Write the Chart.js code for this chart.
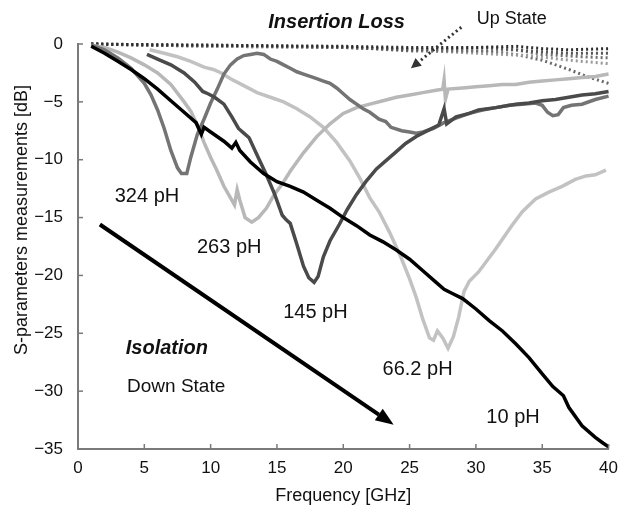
<!DOCTYPE html>
<html>
<head>
<meta charset="utf-8">
<script src="https://cdn.jsdelivr.net/npm/chart.js@4/dist/chart.umd.min.js"></script>
<style>
  html, body { margin: 0; padding: 0; background: #fff; }
  canvas { display: block; }
</style>
</head>
<body>
<canvas id="chart" width="619" height="507"></canvas>
<script>
// Axis ticks
const freqTicks = [0, 5, 10, 15, 20, 25, 30, 35, 40];        // GHz
const dbTicks = [0, -5, -10, -15, -20, -25, -30, -35];       // dB

// Down state (isolation), [frequency GHz, S21 dB]
const iso10pH = [[1,-0.2],[2,-0.8],[3,-1.5],[4,-2.2],[5,-3.0],[6,-3.9],[7,-4.9],[8,-5.9],[8.9,-6.8],[9.3,-7.8],[9.5,-7.2],[10,-7.6],[11,-8.4],[11.6,-9.0],[11.9,-8.5],[12.2,-9.2],[13,-10.2],[14,-11.2],[15,-11.9],[16,-12.3],[17,-12.8],[18,-13.5],[19,-14.2],[20,-15.0],[21,-15.7],[22,-16.5],[23,-17.1],[24,-17.8],[25,-18.6],[26,-19.6],[27,-20.6],[27.6,-21.2],[28.3,-21.6],[29,-22.0],[30,-22.9],[31,-23.9],[32,-24.8],[33,-25.9],[34,-27.1],[35,-28.5],[35.8,-29.6],[36.3,-30.1],[36.6,-30.4],[37,-31.4],[38,-33.0],[39,-34.0],[39.6,-34.5],[40,-34.8]];
const iso145pH = [[5.2,-0.9],[6,-1.3],[7,-1.8],[8,-2.5],[8.8,-3.3],[9.4,-4.1],[9.8,-4.3],[10.3,-4.6],[11,-5.2],[11.6,-6.3],[12.1,-7.3],[12.5,-7.7],[12.9,-8.1],[13.5,-9.6],[14.2,-11.3],[14.8,-12.9],[15.4,-14.8],[15.7,-15.2],[16,-15.5],[16.5,-17.3],[17,-19.2],[17.4,-20.2],[17.8,-20.6],[18.1,-20.1],[18.5,-18.4],[19,-17.0],[19.7,-15.6],[20.3,-14.3],[21,-13.0],[21.7,-11.9],[22.5,-10.8],[23.2,-10.1],[24,-9.3],[24.7,-8.6],[25.5,-8.0],[26.5,-7.4],[27.2,-7.0],[27.6,-5.6],[27.8,-6.9],[28.5,-6.3],[29.5,-6.0],[30.2,-5.7],[31.5,-5.5],[33,-5.2],[34,-5.1],[35,-4.9],[36,-4.8],[37,-4.6],[38,-4.4],[39,-4.3],[40,-4.1]];
const iso324pH = [[1,-0.1],[2,-0.5],[3,-1.2],[4,-2.1],[5,-3.4],[5.5,-4.4],[6,-5.7],[6.5,-7.3],[7,-9.2],[7.5,-10.7],[7.8,-11.2],[8.2,-11.2],[8.5,-9.8],[9,-7.8],[9.5,-6.5],[10,-5.1],[10.5,-3.9],[11,-2.6],[11.5,-1.8],[12,-1.3],[12.5,-1.0],[13,-0.9],[13.5,-0.8],[14,-0.9],[14.5,-1.3],[15,-1.5],[15.5,-1.8],[16,-2.1],[16.5,-2.4],[17,-2.6],[17.5,-2.8],[18,-3.0],[18.5,-3.2],[19,-3.4],[19.5,-3.8],[20,-4.3],[20.5,-4.8],[21,-5.2],[21.5,-5.6],[22,-5.9],[22.7,-6.5],[23.2,-6.7],[23.6,-7.2],[24.4,-7.5],[25,-7.6],[25.5,-7.7],[26,-7.6],[26.8,-7.3],[27.6,-6.8],[28.5,-6.4],[29.5,-6.0],[30.5,-5.7],[31.5,-5.5],[32.5,-5.3],[33.5,-5.2],[34.5,-5.1],[35,-5.3],[35.4,-5.9],[35.8,-6.2],[36.2,-6.1],[36.6,-5.5],[37.2,-5.3],[38,-5.2],[39,-4.8],[40,-4.5]];
const iso263pH = [[1,-0.1],[2,-0.3],[3,-0.7],[4,-1.2],[5,-1.8],[6,-2.5],[7,-3.5],[8,-5.0],[8.5,-5.8],[9,-7.0],[9.5,-8.5],[10,-9.8],[10.5,-11.0],[11,-12.3],[11.5,-13.3],[11.8,-13.9],[12,-12.6],[12.2,-13.5],[12.6,-15.0],[13.1,-15.4],[13.6,-15.0],[14.2,-14.2],[14.8,-13.0],[15.4,-12.1],[16,-11.0],[17,-9.4],[18,-8.0],[19,-6.9],[20,-6.0],[21,-5.5],[22,-5.2],[23,-4.9],[24,-4.6],[25,-4.4],[26,-4.2],[27,-4.0],[27.5,-3.9],[27.6,-3.1],[27.7,-4.8],[27.9,-3.9],[29,-3.8],[30,-3.7],[31,-3.6],[32,-3.5],[33,-3.5],[34,-3.3],[35,-3.2],[36,-3.1],[37,-3.0],[38,-2.9],[39,-2.8],[40,-2.6]];
const iso66pH = [[5.4,-0.5],[6.5,-0.8],[7.5,-1.1],[8.5,-1.5],[9.5,-2.0],[10.2,-2.2],[10.8,-2.5],[11.5,-3.0],[12.5,-3.6],[13.5,-4.2],[14.5,-4.6],[15.5,-5.0],[16.5,-5.6],[17.5,-6.3],[18.5,-7.2],[19.5,-8.5],[20.5,-10.1],[21.3,-11.7],[22,-13.3],[22.7,-14.5],[23.5,-16.3],[24.3,-18.3],[25,-20.3],[25.5,-21.9],[26,-23.8],[26.5,-25.4],[26.8,-25.6],[27.1,-24.8],[27.5,-25.4],[27.9,-26.3],[28.3,-25.3],[28.7,-23.6],[29.1,-21.4],[29.5,-20.5],[30.2,-19.7],[31.5,-17.7],[32.7,-15.7],[33.5,-14.5],[34.5,-13.4],[35.5,-12.8],[36.5,-12.3],[37.5,-11.7],[38.3,-11.4],[39,-11.3],[39.8,-10.9]];

// Up state (insertion loss), [frequency GHz, S21 dB]
const up1 = [[1,0],[5,-0.05],[10,-0.1],[15,-0.15],[20,-0.2],[25,-0.3],[30,-0.3],[33,-0.2],[35,-0.4],[37,-0.5],[40,-0.4]];
const up2 = [[1,0],[5,-0.1],[10,-0.1],[15,-0.2],[20,-0.3],[25,-0.5],[28,-0.4],[31,-0.3],[34,-0.6],[37,-0.8],[40,-0.8]];
const up3 = [[1,0],[10,-0.15],[20,-0.25],[25,-0.6],[30,-0.6],[33,-0.5],[35,-0.9],[38,-1.1],[40,-1.2]];
const up4 = [[1,0],[10,-0.2],[20,-0.3],[25,-0.5],[30,-0.8],[34,-1.0],[37,-1.4],[40,-1.7]];
const up5 = [[1,0],[10,-0.2],[20,-0.3],[25,-0.4],[30,-0.6],[33,-0.9],[35,-1.4],[37,-2.2],[38.6,-2.9],[40,-3.4]];

// Arrows, [frequency GHz, dB] from tail to head
const isolationArrow = [[1.65,-15.6],[23.8,-32.9]];
const upStateArrow = [[28.9,1.45],[25.1,-2.1]];

// Text placed in data units: [text, GHz, dB, style]
const notes = [
  ['324 pH', 5.2, -13.2, 'pH'],
  ['263 pH', 11.4, -17.6, 'pH'],
  ['145 pH', 17.9, -23.2, 'pH'],
  ['66.2 pH', 25.6, -28.1, 'pH'],
  ['10 pH', 32.8, -32.3, 'pH'],
  ['Isolation', 6.7, -26.3, 'bold'],
  ['Down State', 7.4, -29.6, 'plain'],
  ['Insertion Loss', 19.5, 1.9, 'bold'],
  ['Up State', 32.7, 2.2, 'upplain']
];

const FONT = '"Liberation Sans", Arial, Helvetica, sans-serif';
const AXIS_COLOR = '#7a7a7a';

const toXY = arr => arr.map(p => ({ x: p[0], y: p[1] }));

function solid(data, color) {
  return { data: toXY(data), borderColor: color, borderWidth: 3.5, pointRadius: 0, tension: 0, clip: false };
}
function dotted(data, color) {
  return { data: toXY(data), borderColor: color, borderWidth: 3, borderDash: [2, 3], pointRadius: 0, tension: 0, clip: false };
}

function arrow(ctx, x1, y1, x2, y2, color, width, dash, headLen, headHalf) {
  const ang = Math.atan2(y2 - y1, x2 - x1);
  const bx = x2 - headLen * Math.cos(ang), by = y2 - headLen * Math.sin(ang);
  ctx.save();
  ctx.strokeStyle = color; ctx.fillStyle = color; ctx.lineWidth = width;
  ctx.setLineDash(dash);
  ctx.beginPath(); ctx.moveTo(x1, y1); ctx.lineTo(bx, by); ctx.stroke();
  ctx.setLineDash([]);
  ctx.beginPath();
  ctx.moveTo(x2, y2);
  ctx.lineTo(bx + headHalf * Math.sin(ang), by - headHalf * Math.cos(ang));
  ctx.lineTo(bx - headHalf * Math.sin(ang), by + headHalf * Math.cos(ang));
  ctx.closePath(); ctx.fill();
  ctx.restore();
}

const decor = {
  id: 'decor',
  afterDraw(chart) {
    const { ctx, scales: { x, y } } = chart;
    ctx.save();
    // inward tick marks
    ctx.strokeStyle = AXIS_COLOR; ctx.lineWidth = 1.5;
    x.ticks.forEach(t => {
      const px = x.getPixelForValue(t.value);
      ctx.beginPath(); ctx.moveTo(px, y.bottom); ctx.lineTo(px, y.bottom - 5); ctx.stroke();
    });
    y.ticks.forEach(t => {
      const py = y.getPixelForValue(t.value);
      ctx.beginPath(); ctx.moveTo(x.left, py); ctx.lineTo(x.left + 5, py); ctx.stroke();
    });
    // y axis title
    ctx.fillStyle = '#111';
    ctx.font = '18px ' + FONT;
    ctx.textAlign = 'center'; ctx.textBaseline = 'middle';
    ctx.translate(22, 220); ctx.rotate(-Math.PI / 2);
    ctx.fillText('S-parameters measurements [dB]', 0, 0);
    ctx.restore();

    // arrows
    const a = isolationArrow.map(p => [x.getPixelForValue(p[0]), y.getPixelForValue(p[1])]);
    arrow(ctx, a[0][0], a[0][1], a[1][0], a[1][1], '#000', 4, [], 18, 7);
    const b = upStateArrow.map(p => [x.getPixelForValue(p[0]), y.getPixelForValue(p[1])]);
    arrow(ctx, b[0][0], b[0][1], b[1][0], b[1][1], '#333', 3, [2, 3], 10, 5);

    // annotations
    ctx.save();
    ctx.fillStyle = '#111';
    ctx.textAlign = 'center'; ctx.textBaseline = 'middle';
    notes.forEach(([txt, f, db, style]) => {
      if (style === 'bold') ctx.font = 'italic bold 20px ' + FONT;
      else if (style === 'upplain') ctx.font = '18px ' + FONT;
      else if (style === 'plain') ctx.font = '19px ' + FONT;
      else ctx.font = '20px ' + FONT;
      ctx.fillText(txt, x.getPixelForValue(f), y.getPixelForValue(db));
    });
    ctx.restore();
  }
};

new Chart(document.getElementById('chart'), {
  type: 'line',
  data: {
    datasets: [
      solid(iso10pH, '#000000'),
      solid(iso145pH, '#4a4a4a'),
      solid(iso324pH, '#747474'),
      solid(iso263pH, '#b8b8b8'),
      solid(iso66pH, '#c2c2c2'),
      dotted(up1, '#2e2e2e'),
      dotted(up2, '#555555'),
      dotted(up3, '#707070'),
      dotted(up4, '#9a9a9a'),
      dotted(up5, '#6a6a6a')
    ]
  },
  options: {
    responsive: false,
    devicePixelRatio: 1,
    animation: false,
    layout: { padding: { top: 44, right: 9, left: 0, bottom: 0 } },
    plugins: { legend: { display: false }, tooltip: { enabled: false } },
    scales: {
      x: {
        type: 'linear', min: 0, max: 40,
        afterBuildTicks: s => { s.ticks = freqTicks.map(v => ({ value: v })); },
        afterFit: s => { s.height = 58; },
        grid: { display: false },
        border: { display: true, color: AXIS_COLOR, width: 2 },
        ticks: { color: '#111', font: { family: FONT, size: 17 }, padding: 1, maxRotation: 0, autoSkip: false },
        title: { display: true, text: 'Frequency [GHz]', color: '#111', font: { family: FONT, size: 18 }, padding: { top: 5, bottom: 0 } }
      },
      y: {
        type: 'linear', min: -35, max: 0,
        afterBuildTicks: s => { s.ticks = dbTicks.map(v => ({ value: v })); },
        afterFit: s => { s.width = 78; },
        grid: { display: false },
        border: { display: true, color: AXIS_COLOR, width: 2 },
        ticks: {
          color: '#111', font: { family: FONT, size: 17 }, padding: 7, autoSkip: false,
          callback: v => (v < 0 ? '\u2212' + Math.abs(v) : String(v))
        }
      }
    }
  },
  plugins: [decor]
});
</script>
</body>
</html>
